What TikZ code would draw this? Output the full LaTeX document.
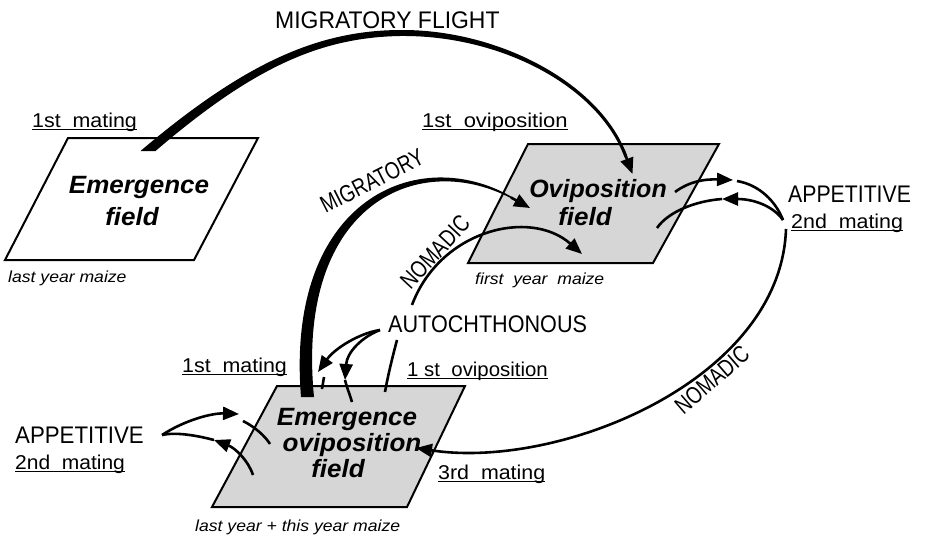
\documentclass[tikz,border=0pt]{standalone}
\usepackage{fontspec}
\setmainfont{Liberation Sans}
\usetikzlibrary{arrows.meta}
\definecolor{fieldgray}{RGB}{214,214,214}
\newcommand{\myul}[2]{\setbox0=\hbox{\scalebox{#1}[1]{#2}}\rlap{\rule[-3pt]{\wd0}{1.4pt}}\box0}
\newcommand{\sx}[2]{\scalebox{#1}[1]{#2}}
\begin{document}
\begin{tikzpicture}[x=1pt,y=-1pt,
  field/.style={draw=black,line width=2pt,line join=miter},
  grayfield/.style={field,fill=fieldgray},
  conn/.style={line width=2.6pt},
  tipped/.style={-{Triangle[length=16pt,width=13pt]}},
  caps/.style={font=\fontsize{24}{28}\selectfont,inner sep=0pt},
  lab/.style={font=\fontsize{20}{24}\selectfont,inner sep=0pt,anchor=base west},
  small/.style={font=\itshape\fontsize{16}{19}\selectfont,inner sep=0pt,anchor=base west},
  fname/.style={font=\bfseries\itshape\fontsize{25}{30}\selectfont,inner sep=0pt,anchor=base},
]
\useasboundingbox (0,0) rectangle (929,538);

% fields
\draw[field,fill=white] (68,138) -- (258,138) -- (194,260) -- (5,260) -- cycle;
\draw[grayfield] (528,144) -- (719,144) -- (653,263) -- (468,263) -- cycle;
\draw[grayfield] (277,386) -- (465,386) -- (407,507) -- (212,507) -- cycle;

% meeting points
\coordinate (appR) at (783,220);
\coordinate (appL) at (162,435);
\coordinate (auto) at (380,330);

% migratory flight (tapered)
\fill (140.5,151) .. controls (247,60.6) and (320,30.5) .. (400,30)
      .. controls (500,29.2) and (601.7,84.4) .. (627.4,156.5)
      -- (624.6,157.5) .. controls (598.3,85.6) and (500,34.8) .. (400,36)
      .. controls (320,37.5) and (253,67.4) .. (155.5,151) -- cycle;
\coordinate (mfA) at (623.5,150);
\coordinate (mfB) at (632.5,174);
\draw[conn,tipped] (mfA) -- (mfB);

% migratory (tapered)
\fill (301,397) .. controls (285,199) and (418.5,142) .. (513.2,197.7)
      -- (514.8,200.3) .. controls (421.5,148) and (295,201) .. (314,397) -- cycle;
\coordinate (miA) at (511,197.5);
\coordinate (miB) at (530,208);
\draw[conn,tipped] (miA) -- (miB);

% nomadic upper
\coordinate (noS) at (412,305);
\coordinate (noE) at (582,254);
\draw[conn,tipped] (noS) .. controls (440,230) and (530,208) .. (noE);

% nomadic lower
\coordinate (nlS) at (786,229);
\coordinate (nlE) at (416,448);
\draw[conn,tipped] (nlS) .. controls (781,380) and (560,470) .. (nlE);

% appetitive right
\coordinate (r1) at (675,192);
\coordinate (r1t) at (733,180);
\coordinate (r1b) at (737,181);
\draw[conn,tipped] (r1) .. controls (690,181) and (705,179) .. (r1t);
\draw[conn] (r1b) .. controls (760,185) and (776,202) .. (appR);
\coordinate (r2t) at (722,199);
\coordinate (r2) at (657,228);
\draw[conn,tipped] (appR) .. controls (774,207) and (755,199) .. (r2t);
\draw[conn] (r2t) .. controls (695,201) and (668,212) .. (r2);

% appetitive left
\coordinate (l1t) at (239,414);
\coordinate (l1b) at (243,421);
\coordinate (l1) at (270,444);
\draw[conn,tipped] (appL) .. controls (185,420) and (212,413) .. (l1t);
\draw[conn] (l1b) .. controls (255,427) and (265,436) .. (l1);
\coordinate (l2) at (253,475);
\coordinate (l2t) at (214,440);
\draw[conn,tipped] (l2) .. controls (248,460) and (235,448) .. (l2t);
\draw[conn] (l2t) .. controls (195,435) and (175,432) .. (appL);

% autochthonous
\coordinate (a1t) at (318,372);
\coordinate (a1b) at (324,377);
\coordinate (a1f) at (322,389);
\draw[conn,tipped] (auto) .. controls (360,333) and (335,348) .. (a1t);
\draw[conn] (a1b) -- (a1f);
\coordinate (a2t) at (345,380);
\coordinate (a2f) at (352,402);
\draw[conn,tipped] (auto) .. controls (362,337) and (347,352) .. (a2t);
\draw[conn] (a2t) .. controls (347,388) and (350,395) .. (a2f);
\coordinate (a3f) at (385,392);
\coordinate (a3t) at (397,340);
\draw[conn] (a3f) .. controls (388,375) and (393,355) .. (a3t);

% texts
\node[caps,anchor=base west] (tMF) at (275,28) {\sx{0.956}{MIGRATORY FLIGHT}};
\node[lab] (tM1) at (32,127) {\myul{1.07}{1st\ \ mating}};
\node[small] (tLY) at (8,282) {\sx{1.1}{last year maize}};
\node[fname] (tE1) at (139,193) {\sx{1.04}{Emergence}};
\node[fname] (tE2) at (132,225) {\sx{1.04}{field}};

\node[lab] (tO1) at (422,127) {\myul{1.10}{1st\ \ oviposition}};
\node[fname] (tO2) at (598,197) {\sx{1.0}{Oviposition}};
\node[fname] (tO3) at (585,225) {\sx{1.04}{field}};
\node[small] (tFY) at (475,284) {\sx{1.1}{first\ \ year\ \ maize}};

\node[caps,rotate=27] (tMig) at (372,181) {\sx{0.79}{MIGRATORY}};
\node[caps,rotate=47] (tNo1) at (435,252) {\sx{0.79}{NOMADIC}};
\node[caps,rotate=41] (tNo2) at (712,380) {\sx{0.79}{NOMADIC}};

\node[caps,anchor=base west] (tAu) at (388,332) {\sx{0.90}{AUTOCHTHONOUS}};
\node[caps,anchor=base west] (tApR) at (788,202) {\sx{0.885}{APPETITIVE}};
\node[lab] (t2R) at (791,228) {\myul{1.07}{2nd\ \ mating}};

\node[lab] (tM2) at (182,372) {\myul{1.07}{1st\ \ mating}};
\node[lab] (tO4) at (407,376) {\myul{1.02}{1 st\ \ oviposition}};
\node[caps,anchor=base west] (tApL) at (15,443) {\sx{0.927}{APPETITIVE}};
\node[lab] (t2L) at (15,469) {\myul{1.05}{2nd\ \ mating}};
\node[lab] (t3) at (438,479) {\myul{1.07}{3rd\ \ mating}};

\node[fname] (tE3) at (347,425) {\sx{1.04}{Emergence}};
\node[fname] (tE4) at (352,451) {\sx{1.04}{oviposition}};
\node[fname] (tE5) at (338,477) {\sx{1.04}{field}};
\node[small] (tLT) at (195,531) {\sx{1.1}{last year + this year maize}};
\end{tikzpicture}
\end{document}
